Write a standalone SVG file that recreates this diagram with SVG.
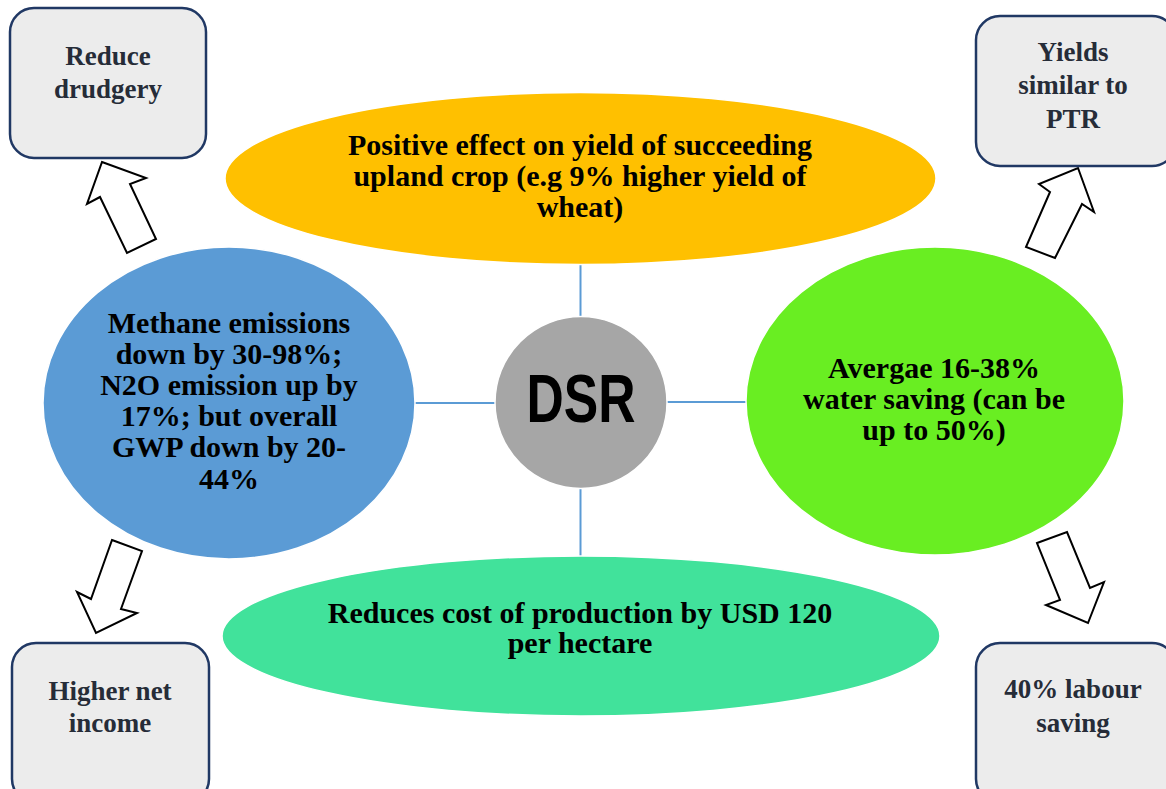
<svg xmlns="http://www.w3.org/2000/svg" width="1166" height="789" viewBox="0 0 1166 789">
  <style>
    .box { fill: #ececec; stroke: #203864; stroke-width: 2.5; }
    .btxt { font-family: 'Liberation Serif', 'DejaVu Serif', serif; font-weight: 700; font-size: 27px; fill: #262c38; text-anchor: middle; }
    .etxt { font-family: 'Liberation Serif', 'DejaVu Serif', serif; font-weight: 700; font-size: 30px; fill: #000; text-anchor: middle; }
    .arrow { fill: #fff; stroke: #000; stroke-width: 2; stroke-linejoin: miter; }
    .conn { stroke: #5b9bd5; stroke-width: 2; fill: none; }
  </style>

  <rect width="1166" height="789" fill="#ffffff"/>

  <g id="connectors">
    <line class="conn" x1="580.5" y1="262" x2="580.5" y2="318"/>
    <line class="conn" x1="580.5" y1="488" x2="580.5" y2="558"/>
    <line class="conn" x1="414" y1="403" x2="496" y2="403"/>
    <line class="conn" x1="666" y1="402" x2="746" y2="402"/>
    <polygon class="arrow" points="102,162 146,178 130,184 156,239 127,253 100,197 87,204"/>
    <polygon class="arrow" points="1078,168 1094,212 1082,204 1055,258 1026,247 1050,192 1039,184"/>
    <polygon class="arrow" points="112,540 142,551 121,609 137,613 96,633 77,592 91,599"/>
    <polygon class="arrow" points="1037,543 1067,532 1090,588 1104,582 1088,623 1046,605 1060,600"/>
  </g>

  <g id="node-yield">
    <ellipse cx="580.5" cy="178.5" rx="355.5" ry="86" fill="#ffc000" stroke="#ffffff" stroke-width="1.5"/>
    <text class="etxt" x="580" y="155">Positive effect on yield of succeeding</text>
    <text class="etxt" x="580" y="186">upland crop (e.g 9% higher yield of</text>
    <text class="etxt" x="580" y="217">wheat)</text>
  </g>

  <g id="node-methane">
    <ellipse cx="229" cy="403" rx="186" ry="156" fill="#5b9bd5" stroke="#ffffff" stroke-width="1.5"/>
    <text class="etxt" x="229" y="333">Methane emissions</text>
    <text class="etxt" x="229" y="364">down by 30-98%;</text>
    <text class="etxt" x="229" y="395">N2O emission up by</text>
    <text class="etxt" x="229" y="426">17%; but overall</text>
    <text class="etxt" x="229" y="457">GWP down by 20-</text>
    <text class="etxt" x="229" y="489">44%</text>
  </g>

  <g id="node-water">
    <ellipse cx="935" cy="401" rx="189" ry="154" fill="#69ee22" stroke="#ffffff" stroke-width="1.5"/>
    <text class="etxt" x="934" y="378">Avergae 16-38%</text>
    <text class="etxt" x="934" y="409">water saving (can be</text>
    <text class="etxt" x="934" y="440">up to 50%)</text>
  </g>

  <g id="node-cost">
    <ellipse cx="581" cy="636" rx="359" ry="80" fill="#41e29b" stroke="#ffffff" stroke-width="1.5"/>
    <text class="etxt" x="580" y="623">Reduces cost of production by USD 120</text>
    <text class="etxt" x="580" y="653">per hectare</text>
  </g>

  <g id="node-dsr">
    <circle cx="581" cy="402.5" r="86" fill="#a6a6a6" stroke="#ffffff" stroke-width="1.5"/>
    <text x="581" y="422" font-family="'Liberation Sans', Arial, sans-serif" font-weight="bold" font-size="68" fill="#000" text-anchor="middle" textLength="109" lengthAdjust="spacingAndGlyphs">DSR</text>
  </g>

  <g id="node-drudgery">
    <rect class="box" x="10" y="8" width="196" height="150" rx="24"/>
    <text class="btxt" x="108" y="65">Reduce</text>
    <text class="btxt" x="108" y="98">drudgery</text>
  </g>

  <g id="node-yields">
    <rect class="box" x="976" y="16" width="200" height="150" rx="24"/>
    <text class="btxt" x="1073" y="61">Yields</text>
    <text class="btxt" x="1073" y="94">similar to</text>
    <text class="btxt" x="1073" y="128">PTR</text>
  </g>

  <g id="node-income">
    <rect class="box" x="12" y="643" width="197" height="160" rx="24"/>
    <text class="btxt" x="110" y="700">Higher net</text>
    <text class="btxt" x="110" y="732">income</text>
  </g>

  <g id="node-labour">
    <rect class="box" x="976" y="643" width="200" height="160" rx="24"/>
    <text class="btxt" x="1073" y="698">40% labour</text>
    <text class="btxt" x="1073" y="732">saving</text>
  </g>
</svg>
